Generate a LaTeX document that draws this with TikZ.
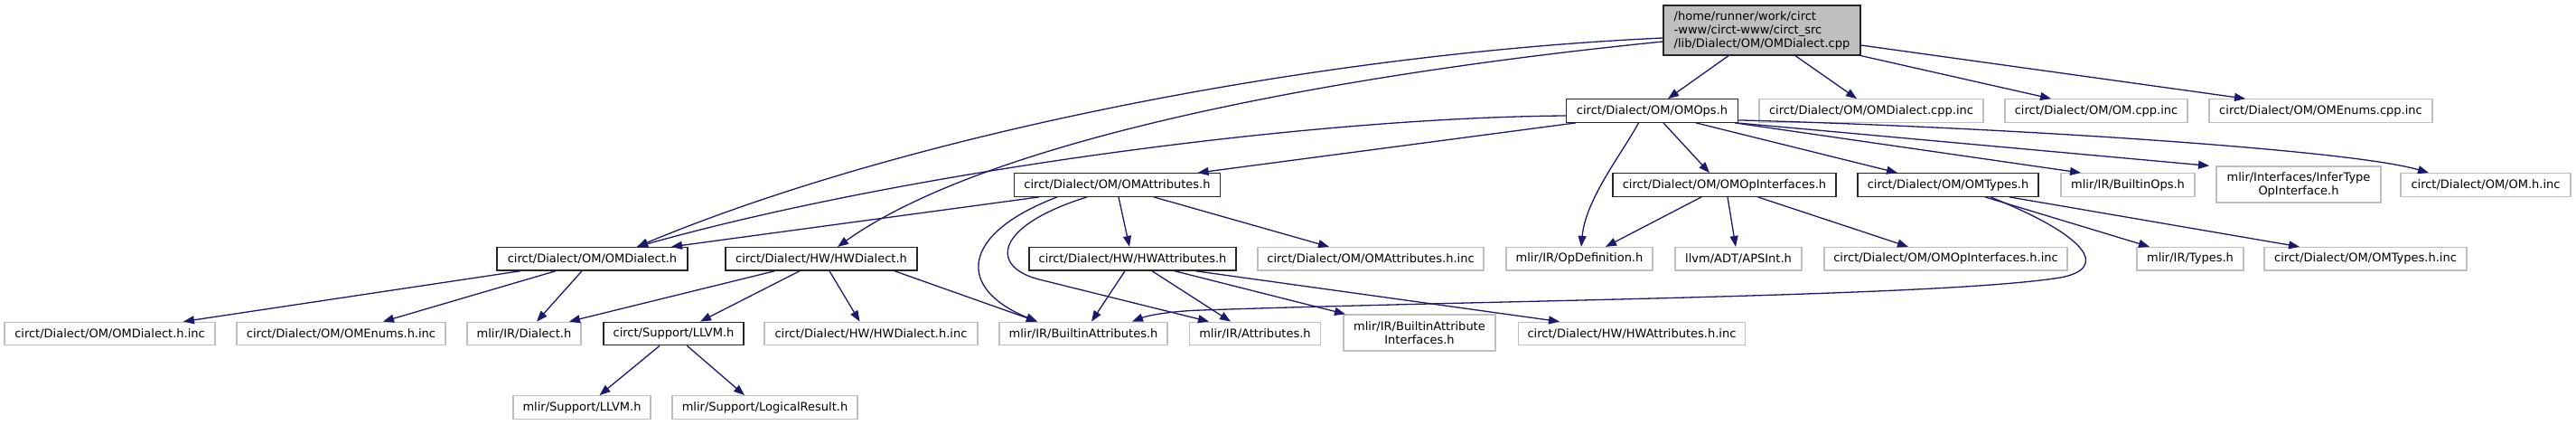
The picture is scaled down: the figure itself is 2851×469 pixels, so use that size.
\documentclass[tikz,border=0pt]{standalone}
\usepackage{fontspec}
\setmainfont{DejaVu Sans}
\usetikzlibrary{arrows.meta}
\definecolor{mblue}{HTML}{191970}
\definecolor{ngray}{HTML}{BFBFBF}
\tikzset{
  nd/.style={draw=black!85, fill=white, line width=1.3pt, inner sep=0pt,
    minimum height=25.5pt, font=\fontsize{13}{15}\selectfont, text=black},
  ng/.style={nd, draw=ngray},
  edge/.style={draw=mblue, line width=1.3pt, -{Triangle[length=12pt,width=9pt]}},
}
\begin{document}
\begin{tikzpicture}[x=1pt,y=-1pt]
\useasboundingbox (0,0) rectangle (2851,469);
% rank 0
\node[nd, fill=ngray, minimum width=218pt, minimum height=55pt, align=left] (root) at (1950,33.5)
  {/home/runner/work/circt\\-www/circt-www/circt\_src\\/lib/Dialect/OM/OMDialect.cpp};
% rank 1
\node[nd, minimum width=190pt] (ops) at (1828.5,122.5) {circt/Dialect/OM/OMOps.h};
\node[ng, minimum width=248pt] (dcpp) at (2071,122.5) {circt/Dialect/OM/OMDialect.cpp.inc};
\node[ng, minimum width=202pt] (omcpp) at (2320,122.5) {circt/Dialect/OM/OM.cpp.inc};
\node[ng, minimum width=247pt] (encpp) at (2568.5,122.5) {circt/Dialect/OM/OMEnums.cpp.inc};
% rank 2
\node[nd, minimum width=228pt] (attr) at (1236.5,204.5) {circt/Dialect/OM/OMAttributes.h};
\node[nd, minimum width=247pt] (opif) at (1908.5,204.5) {circt/Dialect/OM/OMOpInterfaces.h};
\node[nd, minimum width=200pt] (types) at (2156,204.5) {circt/Dialect/OM/OMTypes.h};
\node[ng, minimum width=148pt] (bops) at (2355,204.5) {mlir/IR/BuiltinOps.h};
\node[ng, minimum width=182pt, minimum height=40pt, align=center] (infer) at (2544,204) {mlir/Interfaces/InferType\\OpInterface.h};
\node[ng, minimum width=188pt] (omh) at (2751,204.5) {circt/Dialect/OM/OM.h.inc};
% rank 3
\node[nd, minimum width=211pt] (omd) at (655.5,286.3) {circt/Dialect/OM/OMDialect.h};
\node[nd, minimum width=212pt] (hwd) at (909,286.3) {circt/Dialect/HW/HWDialect.h};
\node[nd, minimum width=229pt] (hwa) at (1253.5,286.3) {circt/Dialect/HW/HWAttributes.h};
\node[ng, minimum width=250pt] (attrinc) at (1517,286.3) {circt/Dialect/OM/OMAttributes.h.inc};
\node[ng, minimum width=162pt] (opdef) at (1748,286.3) {mlir/IR/OpDefinition.h};
\node[ng, minimum width=140pt] (aps) at (1924,286.3) {llvm/ADT/APSInt.h};
\node[ng, minimum width=269pt] (opifinc) at (2153.5,286.3) {circt/Dialect/OM/OMOpInterfaces.h.inc};
\node[ng, minimum width=118pt] (typesh) at (2424,286.3) {mlir/IR/Types.h};
\node[ng, minimum width=224pt] (typesinc) at (2618,286.3) {circt/Dialect/OM/OMTypes.h.inc};
% rank 4
\node[ng, minimum width=233pt] (dinc) at (121.5,369) {circt/Dialect/OM/OMDialect.h.inc};
\node[ng, minimum width=231pt] (einc) at (377.5,369) {circt/Dialect/OM/OMEnums.h.inc};
\node[ng, minimum width=126pt] (dial) at (580,369) {mlir/IR/Dialect.h};
\node[nd, minimum width=155pt] (cllvm) at (745.5,369) {circt/Support/LLVM.h};
\node[ng, minimum width=236pt] (hwinc) at (964,369) {circt/Dialect/HW/HWDialect.h.inc};
\node[ng, minimum width=186pt] (battr) at (1199,369) {mlir/IR/BuiltinAttributes.h};
\node[ng, minimum width=145pt] (attrs) at (1389,369) {mlir/IR/Attributes.h};
\node[ng, minimum width=168pt, minimum height=40pt, align=center] (bai) at (1571,368) {mlir/IR/BuiltinAttribute\\Interfaces.h};
\node[ng, minimum width=251pt] (hwainc) at (1806,369) {circt/Dialect/HW/HWAttributes.h.inc};
% rank 5
\node[ng, minimum width=152pt] (mllvm) at (644,450.5) {mlir/Support/LLVM.h};
\node[ng, minimum width=205pt] (logres) at (846.5,450.5) {mlir/Support/LogicalResult.h};
% edges from root
\draw[edge] ([xshift=-37pt]root.south) -- ([xshift=17.5pt]ops.north);
\draw[edge] ([xshift=37pt]root.south) -- ([xshift=-16pt]dcpp.north);
\draw[edge] (root.south east) -- ([xshift=-50pt]omcpp.north);
\draw[edge] ([yshift=-16.5pt]root.east) -- ([xshift=-83.5pt]encpp.north);
\draw[edge] ([yshift=-8.5pt]root.west) .. controls (1450,60) and (1000,150) .. ([xshift=49.5pt]omd.north);
\draw[edge] ([yshift=-12.5pt]root.west) .. controls (1500,80) and (1100,150) .. ([xshift=18pt]hwd.north);
% edges from OMOps.h
\draw[edge] ([yshift=-5.5pt]ops.west) .. controls (1450,130) and (1000,190) .. ([xshift=49.5pt]omd.north);
\draw[edge] ([xshift=-84.5pt]ops.south) -- ([xshift=89pt]attr.north);
\draw[edge] ([xshift=-15pt]ops.south) .. controls (1795,170) and (1755,220) .. ([xshift=2pt]opdef.north);
\draw[edge] ([xshift=12.5pt]ops.south) -- ([xshift=-16.5pt]opif.north);
\draw[edge] ([xshift=48.5pt]ops.south) -- ([xshift=-56pt]types.north);
\draw[edge] ([xshift=91.5pt]ops.south) -- ([xshift=-52pt]bops.north);
\draw[edge] ([xshift=-2pt]ops.south east) -- ([xshift=-99pt]infer.north);
\draw[edge] ([yshift=3pt]ops.south east) .. controls (2200,140) and (2600,165) .. ([xshift=-63pt]omh.north);
% edges from OMAttributes.h
\draw[edge] ([xshift=-86.5pt]attr.south) -- ([xshift=87.5pt]omd.north);
\draw[edge] ([xshift=-66.5pt]attr.south) .. controls (1060,260) and (1060,320) .. ([xshift=-51pt]battr.north);
\draw[edge] ([xshift=-33.5pt]attr.south) .. controls (1100,250) and (1095,295) .. (1150,309) -- ([xshift=-51pt]attrs.north);
\draw[edge] ([xshift=1.5pt]attr.south) -- ([xshift=-3.5pt]hwa.north);
\draw[edge] ([xshift=40.5pt]attr.south) -- ([xshift=-46pt]attrinc.north);
% edges from HWDialect.h
\draw[edge] ([xshift=-51.5pt]hwd.south) -- ([xshift=50pt]dial.north);
\draw[edge] ([xshift=-24pt]hwd.south) -- ([xshift=29.5pt]cllvm.north);
\draw[edge] ([xshift=9pt]hwd.south) -- ([xshift=-12.5pt]hwinc.north);
\draw[edge] ([xshift=81pt]hwd.south) -- ([xshift=-51pt]battr.north);
% edges from OMDialect.h
\draw[edge] ([xshift=-79.5pt]omd.south) -- ([xshift=81.5pt]dinc.north);
\draw[edge] ([xshift=-40.5pt]omd.south) -- ([xshift=46.5pt]einc.north);
\draw[edge] ([xshift=-11.5pt]omd.south) -- ([xshift=14pt]dial.north);
% edges from circt/Support/LLVM.h
\draw[edge] ([xshift=-15.5pt]cllvm.south) -- ([xshift=19.5pt]mllvm.north);
\draw[edge] ([xshift=15pt]cllvm.south) -- ([xshift=-22.5pt]logres.north);
% edges from HWAttributes.h
\draw[edge] ([xshift=-8.5pt]hwa.south) -- ([xshift=9pt]battr.north);
\draw[edge] ([xshift=21.5pt]hwa.south) -- ([xshift=-27pt]attrs.north);
\draw[edge] ([xshift=46.5pt]hwa.south) -- ([xshift=-82pt]bai.north);
\draw[edge] ([xshift=69.5pt]hwa.south) -- ([xshift=-80pt]hwainc.north);
% edges from OMOpInterfaces.h
\draw[edge] ([xshift=-25.5pt]opif.south) -- ([xshift=29pt]opdef.north);
\draw[edge] ([xshift=3.5pt]opif.south) -- ([xshift=-3pt]aps.north);
\draw[edge] ([xshift=37pt]opif.south) -- ([xshift=-41.5pt]opifinc.north);
% edges from OMTypes.h
\draw[edge] ([xshift=41pt]types.south) -- ([xshift=-45pt]typesh.north);
\draw[edge] ([xshift=68pt]types.south) -- ([xshift=-73pt]typesinc.north);
\draw[edge] ([xshift=47pt]types.south) .. controls (2320,265) and (2330,298) .. (2280,307)
  .. controls (2150,328) and (1650,332) .. (1330,343)
  .. controls (1295,344) and (1270,349) .. ([xshift=54pt]battr.north);
\end{tikzpicture}
\end{document}
